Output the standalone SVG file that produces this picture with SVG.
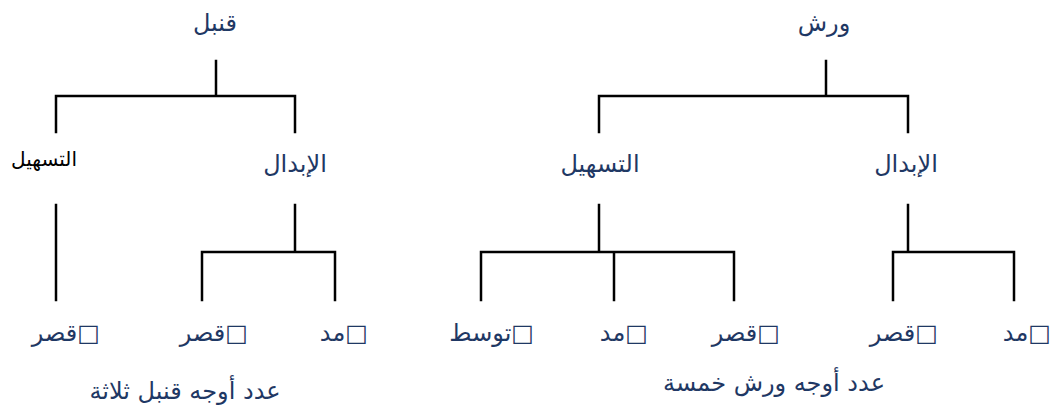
<svg xmlns="http://www.w3.org/2000/svg" width="1056" height="409" viewBox="0 0 1056 409">
<style>
.t{font-family:"DejaVu Sans","Noto Sans",sans-serif;font-size:24px;fill:#1F3864}
.c{text-anchor:middle}
.r{direction:rtl;text-anchor:start}
.k{fill:#000;font-size:20px}
.ln{stroke:#000;stroke-width:2.5;fill:none;stroke-linecap:square}
</style>
<rect width="1056" height="409" fill="#fff"/>
<g id="connectors" class="ln">
<path d="M216 61V96M56 96H295M56 96V132M295 96V132"/>
<path d="M56 205V300"/>
<path d="M295 205V252M202 252H335M202 252V300M335 252V300"/>
<path d="M826 61V96M599 96H908M599 96V132M908 96V132"/>
<path d="M599 205V252M481 252H734M481 252V300M614 252V300M734 252V300"/>
<path d="M908 205V252M893 252H1014M893 252V300M1014 252V300"/>
</g>
<g id="qunbul"><text class="t c" x="215" y="31">قنبل</text></g>
<g id="q-tashil"><text class="t c k" x="44" y="166">التسهيل</text></g>
<g id="q-ibdal"><text class="t c" x="295" y="172">الإبدال</text></g>
<g id="q-qasr1"><text class="t r" x="100" y="341">□قصر</text></g>
<g id="q-qasr2"><text class="t r" x="248" y="341">□قصر</text></g>
<g id="q-madd"><text class="t r" x="368" y="341">□مد</text></g>
<g id="q-count"><text class="t c" x="185" y="399">عدد أوجه قنبل ثلاثة</text></g>
<g id="warsh"><text class="t c" x="824" y="31">ورش</text></g>
<g id="w-tashil"><text class="t c" x="600" y="172">التسهيل</text></g>
<g id="w-ibdal"><text class="t c" x="906" y="172">الإبدال</text></g>
<g id="w-tawassut"><text class="t r" x="534" y="341">□توسط</text></g>
<g id="w-madd1"><text class="t r" x="648" y="341">□مد</text></g>
<g id="w-qasr1"><text class="t r" x="780" y="341">□قصر</text></g>
<g id="w-qasr2"><text class="t r" x="938" y="341">□قصر</text></g>
<g id="w-madd2"><text class="t r" x="1051" y="341">□مد</text></g>
<g id="w-count"><text class="t c" x="774" y="391">عدد أوجه ورش خمسة</text></g>
</svg>
